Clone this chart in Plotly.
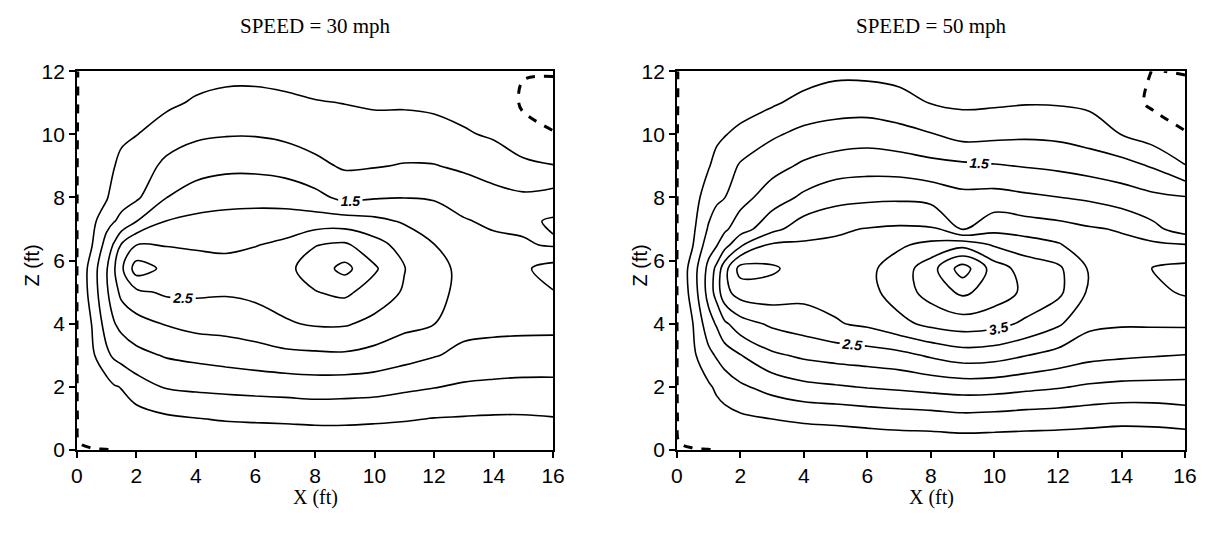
import plotly.graph_objects as go

# ---------------- data ----------------
X_FT = [0, 0.5, 1, 1.25, 1.5, 2, 3, 4, 5, 6, 7, 8, 9, 10, 11, 12, 13, 14, 15, 16]
Z_FT_30 = [0, 0.25, 1, 2, 3, 4, 5, 5.75, 6.5, 7.25, 8, 9, 10, 11, 12]
Z_FT_50 = [0, 0.25, 1, 2, 3, 4, 5, 5.75, 6.5, 7, 8, 9, 10, 11, 12]

# SPEED = 30 mph : one list per X column, values at Z_FT_30
s30_c00_00 = [-0.005, -0.005, -0.005, -0.005, -0.005, -0.005, -0.005, -0.005, -0.005, -0.005, -0.005, -0.005, -0.005, -0.005, -0.005]
s30_c00_50 = [-0.01, 0.03, 0.12, 0.25, 0.40, 0.51, 0.70, 0.72, 0.47, 0.36, 0.28, 0.20, 0.13, 0.08, 0.08]
s30_c01_00 = [-0.005, 0.05, 0.18, 0.30, 0.90, 1.22, 1.43, 1.46, 1.20, 0.83, 0.45, 0.33, 0.23, 0.13, 0.08]
s30_c01_25 = [0.02, 0.08, 0.25, 0.46, 1.08, 1.47, 1.79, 1.95, 1.56, 0.98, 0.76, 0.48, 0.34, 0.20, 0.08]
s30_c01_50 = [0.04, 0.10, 0.27, 0.52, 1.19, 1.64, 2.13, 2.41, 2.05, 1.10, 0.85, 0.62, 0.41, 0.23, 0.08]
s30_c02_00 = [0.05, 0.12, 0.30, 0.76, 1.36, 1.82, 2.39, 3.25, 2.49, 1.49, 0.92, 0.71, 0.49, 0.29, 0.10]
s30_c03_00 = [0.06, 0.15, 0.42, 1.04, 1.54, 2.03, 2.58, 2.88, 2.47, 2.01, 1.49, 1.12, 0.74, 0.40, 0.15]
s30_c04_00 = [0.08, 0.18, 0.49, 1.10, 1.63, 2.16, 2.58, 2.70, 2.44, 2.12, 1.74, 1.29, 0.92, 0.56, 0.30]
s30_c05_00 = [0.10, 0.20, 0.54, 1.14, 1.71, 2.19, 2.55, 2.64, 2.42, 2.15, 1.84, 1.38, 0.97, 0.65, 0.35]
s30_c06_00 = [0.10, 0.22, 0.56, 1.18, 1.79, 2.28, 2.61, 2.74, 2.48, 2.18, 1.85, 1.38, 0.97, 0.66, 0.35]
s30_c07_00 = [0.10, 0.22, 0.58, 1.21, 1.88, 2.45, 2.71, 2.88, 2.60, 2.22, 1.80, 1.31, 0.90, 0.61, 0.30]
s30_c08_00 = [0.10, 0.23, 0.61, 1.25, 1.91, 2.55, 2.98, 3.22, 2.98, 2.23, 1.65, 1.12, 0.80, 0.53, 0.24]
s30_c09_00 = [0.10, 0.23, 0.61, 1.23, 1.93, 2.55, 3.10, 3.65, 3.08, 2.22, 1.37, 0.94, 0.71, 0.49, 0.22]
s30_c10_00 = [0.10, 0.22, 0.58, 1.20, 1.83, 2.37, 2.78, 3.07, 2.69, 2.12, 1.46, 0.97, 0.70, 0.44, 0.22]
s30_c11_00 = [0.12, 0.22, 0.54, 1.10, 1.68, 2.14, 2.45, 2.52, 2.31, 1.95, 1.49, 1.03, 0.71, 0.44, 0.22]
s30_c12_00 = [0.14, 0.22, 0.49, 1.02, 1.53, 2.01, 2.18, 2.17, 2.01, 1.74, 1.46, 1.02, 0.68, 0.40, 0.20]
s30_c13_00 = [0.15, 0.23, 0.47, 0.93, 1.39, 1.64, 1.83, 1.87, 1.71, 1.54, 1.29, 0.92, 0.55, 0.34, 0.15]
s30_c14_00 = [0.15, 0.23, 0.45, 0.89, 1.34, 1.62, 1.81, 1.83, 1.63, 1.41, 1.16, 0.78, 0.44, 0.27, 0.10]
s30_c15_00 = [0.15, 0.23, 0.45, 0.87, 1.30, 1.62, 1.85, 1.93, 1.55, 1.40, 1.08, 0.63, 0.12, -0.05, 0.02]
s30_c16_00 = [0.12, 0.20, 0.48, 0.88, 1.27, 1.63, 1.98, 2.18, 1.45, 1.56, 1.20, 0.52, 0.02, -0.15, 0.03]

# SPEED = 50 mph : one list per X column, values at Z_FT_50
s50_c00_00 = [-0.005, -0.005, -0.005, -0.005, -0.005, -0.005, -0.005, -0.005, -0.005, -0.005, -0.005, -0.005, -0.005, -0.005, -0.005]
s50_c00_50 = [-0.01, 0.03, 0.12, 0.25, 0.40, 0.49, 0.70, 0.74, 0.48, 0.40, 0.30, 0.22, 0.14, 0.08, 0.08]
s50_c01_00 = [-0.005, 0.05, 0.22, 0.43, 0.87, 1.30, 1.69, 1.65, 1.28, 1.06, 0.74, 0.47, 0.32, 0.18, 0.08]
s50_c01_25 = [0.02, 0.08, 0.29, 0.58, 1.05, 1.55, 2.21, 2.13, 1.46, 1.27, 0.91, 0.64, 0.41, 0.23, 0.08]
s50_c01_50 = [0.04, 0.10, 0.33, 0.71, 1.24, 1.90, 2.85, 2.80, 1.79, 1.41, 0.99, 0.73, 0.48, 0.27, 0.08]
s50_c02_00 = [0.05, 0.13, 0.41, 0.92, 1.48, 2.29, 3.22, 3.69, 2.42, 1.77, 1.32, 1.06, 0.60, 0.31, 0.10]
s50_c03_00 = [0.06, 0.17, 0.51, 1.18, 1.91, 2.59, 3.28, 3.58, 3.08, 2.35, 1.75, 1.33, 0.93, 0.43, 0.15]
s50_c04_00 = [0.08, 0.20, 0.58, 1.37, 2.09, 2.75, 3.15, 3.26, 3.07, 2.78, 2.10, 1.58, 1.13, 0.66, 0.25]
s50_c05_00 = [0.10, 0.22, 0.62, 1.45, 2.19, 2.96, 3.16, 3.21, 3.07, 2.94, 2.33, 1.75, 1.21, 0.77, 0.38]
s50_c06_00 = [0.10, 0.24, 0.68, 1.53, 2.26, 3.09, 3.34, 3.39, 3.17, 3.02, 2.40, 1.80, 1.27, 0.76, 0.38]
s50_c07_00 = [0.10, 0.26, 0.74, 1.59, 2.35, 3.37, 3.73, 3.73, 3.43, 3.07, 2.42, 1.77, 1.17, 0.67, 0.33]
s50_c08_00 = [0.10, 0.27, 0.77, 1.67, 2.57, 3.62, 4.21, 4.30, 3.63, 3.07, 2.34, 1.66, 1.03, 0.48, 0.25]
s50_c09_00 = [0.10, 0.29, 0.84, 1.73, 2.75, 3.75, 4.60, 5.25, 3.83, 2.47, 2.14, 1.60, 0.82, 0.41, 0.25]
s50_c10_00 = [0.10, 0.28, 0.81, 1.71, 2.70, 3.67, 4.27, 4.25, 3.44, 2.86, 2.18, 1.54, 0.87, 0.43, 0.25]
s50_c11_00 = [0.10, 0.27, 0.76, 1.62, 2.51, 3.40, 3.89, 3.77, 3.25, 2.77, 2.09, 1.47, 0.91, 0.47, 0.25]
s50_c12_00 = [0.10, 0.26, 0.73, 1.54, 2.33, 3.07, 3.62, 3.60, 3.05, 2.68, 2.01, 1.40, 0.88, 0.46, 0.25]
s50_c13_00 = [0.10, 0.24, 0.68, 1.43, 2.15, 2.61, 2.91, 2.94, 2.70, 2.55, 1.92, 1.29, 0.76, 0.40, 0.20]
s50_c14_00 = [0.10, 0.23, 0.63, 1.37, 2.08, 2.55, 2.75, 2.79, 2.61, 2.46, 1.75, 1.19, 0.49, 0.20, 0.15]
s50_c15_00 = [0.10, 0.23, 0.65, 1.36, 2.03, 2.56, 2.88, 3.02, 2.60, 2.13, 1.61, 0.95, 0.25, -0.08, -0.01]
s50_c16_00 = [0.10, 0.20, 0.75, 1.35, 1.99, 2.57, 3.06, 3.14, 2.52, 1.75, 1.53, 0.52, 0.02, -0.15, 0.02]

TITLES = ["SPEED = 30 mph", "SPEED = 50 mph"]
X_TICKS = [0, 2, 4, 6, 8, 10, 12, 14, 16]
Z_TICKS = [0, 2, 4, 6, 8, 10, 12]

S30_COLS = [s30_c00_00, s30_c00_50, s30_c01_00, s30_c01_25, s30_c01_50, s30_c02_00, s30_c03_00,
            s30_c04_00, s30_c05_00, s30_c06_00, s30_c07_00, s30_c08_00, s30_c09_00, s30_c10_00,
            s30_c11_00, s30_c12_00, s30_c13_00, s30_c14_00, s30_c15_00, s30_c16_00]
S50_COLS = [s50_c00_00, s50_c00_50, s50_c01_00, s50_c01_25, s50_c01_50, s50_c02_00, s50_c03_00,
            s50_c04_00, s50_c05_00, s50_c06_00, s50_c07_00, s50_c08_00, s50_c09_00, s50_c10_00,
            s50_c11_00, s50_c12_00, s50_c13_00, s50_c14_00, s50_c15_00, s50_c16_00]


def to_grid(cols):
    return [[col[j] for col in cols] for j in range(len(cols[0]))]


W, H = 1211, 537
# the page shows the figure inside an 8 px body margin, so place things in that box
OFF = 8
BW, BH = W - 2 * OFF, H - 2 * OFF


def px(xp):
    return (xp - OFF) / BW


def py(yp):
    return 1 - (yp - OFF) / BH


SANS = "Liberation Sans, Arial, sans-serif"
SERIF = "Liberation Serif, Times New Roman, serif"
LW = 1.6

fig = go.Figure()


def add_panel(cols, zvals, xa, ya, labeled, plain):
    grid = to_grid(cols)
    common = dict(x=X_FT, y=zvals, z=grid, xaxis=xa, yaxis=ya, showscale=False,
                  hoverinfo="skip", autocontour=False)
    fig.add_trace(go.Contour(**common,
                             contours=dict(coloring="none", start=1.0, end=5.0, size=1.0),
                             line=dict(color="black", width=LW, smoothing=1.0)))
    fig.add_trace(go.Contour(**common,
                             contours=dict(coloring="none", start=plain[0], end=plain[1], size=plain[2]),
                             line=dict(color="black", width=LW, smoothing=1.0)))
    fig.add_trace(go.Contour(**common,
                             contours=dict(coloring="none", start=labeled[0], end=labeled[1], size=1.0,
                                           showlabels=True,
                                           labelfont=dict(family=SANS, size=14, color="black",
                                                          weight="bold", style="italic")),
                             line=dict(color="black", width=LW, smoothing=1.0)))
    fig.add_trace(go.Contour(**common,
                             contours=dict(coloring="none", start=0.0, end=0.4, size=1.0),
                             line=dict(color="black", width=3, dash="dash", smoothing=1.0)))


add_panel(S30_COLS, Z_FT_30, "x", "y", (1.5, 2.5), (0.5, 3.5, 3.0))
add_panel(S50_COLS, Z_FT_50, "x2", "y2", (1.5, 3.5), (0.5, 4.5, 4.0))

ydom = [py(452), py(68)]
axis_common = dict(showline=True, linecolor="black", linewidth=1.5, mirror=True,
                   ticks="outside", ticklen=6, tickwidth=1.5, tickcolor="black",
                   showgrid=False, zeroline=False,
                   tickfont=dict(family=SANS, size=21, color="black"))

fig.update_layout(
    width=W, height=H,
    margin=dict(l=0, r=0, t=0, b=0),
    paper_bgcolor="white", plot_bgcolor="white",
    showlegend=False,
    xaxis=dict(domain=[px(79), px(556)], range=[0, 16], tickvals=X_TICKS, anchor="y", **axis_common),
    yaxis=dict(domain=ydom, range=[0, 12], tickvals=Z_TICKS, anchor="x", **axis_common),
    xaxis2=dict(domain=[px(680), px(1189)], range=[0, 16], tickvals=X_TICKS, anchor="y2", **axis_common),
    yaxis2=dict(domain=ydom, range=[0, 12], tickvals=Z_TICKS, anchor="x2", **axis_common),
)

ann = []
for cx, title in zip([318, 935], TITLES):
    ann.append(dict(x=px(cx), y=py(22), xref="paper", yref="paper", text=title, showarrow=False,
                    xanchor="center", yanchor="middle", font=dict(family=SERIF, size=21, color="black")))
    ann.append(dict(x=px(cx), y=py(500), xref="paper", yref="paper", text="X (ft)", showarrow=False,
                    xanchor="center", yanchor="middle", font=dict(family=SERIF, size=20, color="black")))
for zx in [34, 643]:
    ann.append(dict(x=px(zx), y=py(265), xref="paper", yref="paper", text="Z (ft)", showarrow=False,
                    textangle=-90, xanchor="center", yanchor="middle",
                    font=dict(family=SANS, size=20, color="black")))
fig.update_layout(annotations=ann)

fig.write_html("out.html")
